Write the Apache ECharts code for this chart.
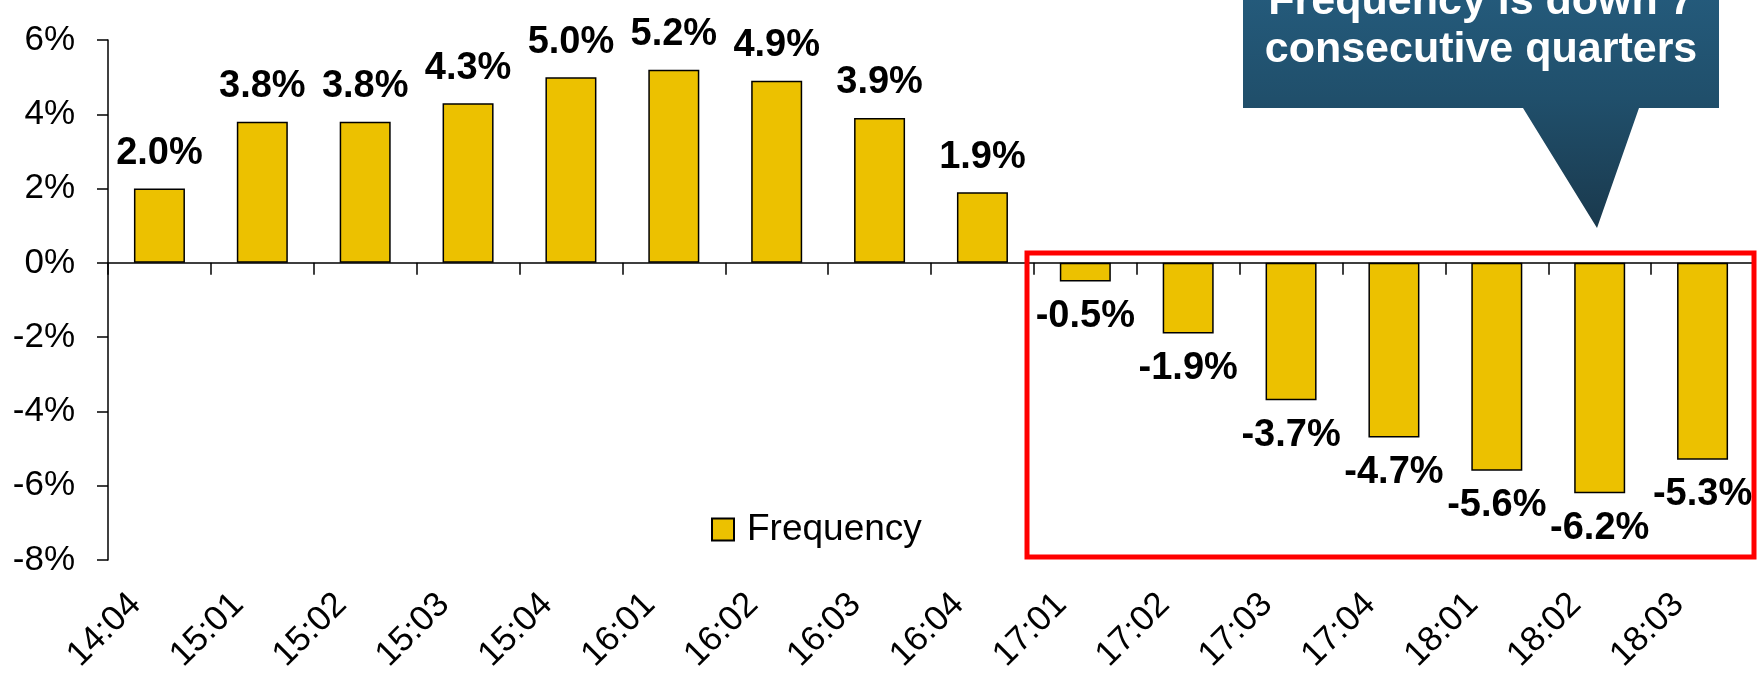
<!DOCTYPE html>
<html>
<head>
<meta charset="utf-8">
<title>Frequency</title>
<script src="https://cdn.jsdelivr.net/npm/echarts@6/dist/echarts.min.js"></script>
<style>
  html, body { margin: 0; padding: 0; background: #ffffff; }
  #chart { width: 1764px; height: 677px; }
</style>
</head>
<body>
<div id="chart"></div>
<script>
// Quarterly change in claim frequency (year:quarter)
const quarters = ['14:04', '15:01', '15:02', '15:03', '15:04', '16:01', '16:02', '16:03',
                  '16:04', '17:01', '17:02', '17:03', '17:04', '18:01', '18:02', '18:03'];
const frequency = [2.0, 3.8, 3.8, 4.3, 5.0, 5.2, 4.9, 3.9, 1.9,
                   -0.5, -1.9, -3.7, -4.7, -5.6, -6.2, -5.3];
const yTicks = { min: -8, max: 6, step: 2 };
const calloutLines = ['Frequency is down 7', 'consecutive quarters'];

const FONT = "'Liberation Sans', Arial, sans-serif";
const BAR_COLOR = '#ECC100';

// Labels sit beyond the bar's end: above for gains, below for declines
const barData = frequency.map(v => ({
  value: v,
  label: { position: v >= 0 ? 'top' : 'bottom' }
}));

const chart = echarts.init(document.getElementById('chart'), null, { renderer: 'canvas' });

chart.setOption({
  animation: false,
  backgroundColor: '#ffffff',
  grid: {
    left: 108, right: 10, top: 40, bottom: 117,
    containLabel: false,
    outerBoundsMode: 'none'
  },
  legend: {
    data: ['Frequency'],
    left: 706,
    top: 506,
    icon: 'rect',
    itemWidth: 22,
    itemHeight: 22,
    textStyle: { fontFamily: FONT, fontSize: 37, color: '#000', padding: [0, 0, 0, 8] }
  },
  xAxis: [
    {
      // Zero line with category dividers
      type: 'category',
      data: quarters,
      position: 'top',
      axisLine: { onZero: true, lineStyle: { color: '#000', width: 1.5 } },
      axisTick: { show: true, inside: true, length: 12, lineStyle: { color: '#000', width: 1.5 } },
      axisLabel: { show: false },
      splitLine: { show: false }
    },
    {
      // Quarter labels along the bottom edge
      type: 'category',
      data: quarters,
      position: 'bottom',
      axisLine: { show: false, onZero: false },
      axisTick: { show: false },
      axisLabel: {
        rotate: 45,
        margin: 15,
        padding: [0, 34, 0, 0],
        fontFamily: FONT,
        fontSize: 35,
        color: '#000'
      },
      splitLine: { show: false }
    }
  ],
  yAxis: {
    type: 'value',
    min: yTicks.min,
    max: yTicks.max,
    interval: yTicks.step,
    axisLine: { show: true, lineStyle: { color: '#000', width: 1.5 } },
    axisTick: { show: true, length: 11, lineStyle: { color: '#000', width: 1.5 } },
    axisLabel: {
      margin: 33,
      formatter: '{value}%',
      fontFamily: FONT,
      fontSize: 35,
      color: '#000'
    },
    splitLine: { show: false }
  },
  series: [{
    name: 'Frequency',
    type: 'bar',
    xAxisIndex: 0,
    data: barData,
    barWidth: 51,
    itemStyle: { color: BAR_COLOR, borderColor: '#000', borderWidth: 1.5 },
    label: {
      show: true,
      distance: 16,
      formatter: p => p.value.toFixed(1) + '%',
      fontFamily: FONT,
      fontSize: 38,
      fontWeight: 'bold',
      color: '#000'
    }
  }],
  graphic: [
    // Red frame around the run of declines
    {
      type: 'rect',
      shape: { x: 1027, y: 253, width: 727, height: 304 },
      style: { fill: 'none', stroke: '#FF0000', lineWidth: 5 },
      z: 10
    },
    // Callout bubble with pointer
    {
      type: 'polygon',
      shape: {
        points: [[1243, -30], [1719, -30], [1719, 108], [1639, 108],
                 [1597, 228], [1523, 108], [1243, 108]]
      },
      style: {
        fill: new echarts.graphic.LinearGradient(0, 0, 0, 1, [
          { offset: 0, color: '#255d7f' },
          { offset: 0.5, color: '#204f6b' },
          { offset: 1, color: '#1a394d' }
        ])
      },
      z: 10
    },
    {
      type: 'text',
      x: 1481,
      y: 2,
      style: {
        text: calloutLines[0],
        fill: '#ffffff',
        font: 'bold 43px ' + FONT,
        textAlign: 'center',
        textVerticalAlign: 'middle'
      },
      z: 11
    },
    {
      type: 'text',
      x: 1481,
      y: 50,
      style: {
        text: calloutLines[1],
        fill: '#ffffff',
        font: 'bold 43px ' + FONT,
        textAlign: 'center',
        textVerticalAlign: 'middle'
      },
      z: 11
    }
  ]
});
</script>
</body>
</html>
